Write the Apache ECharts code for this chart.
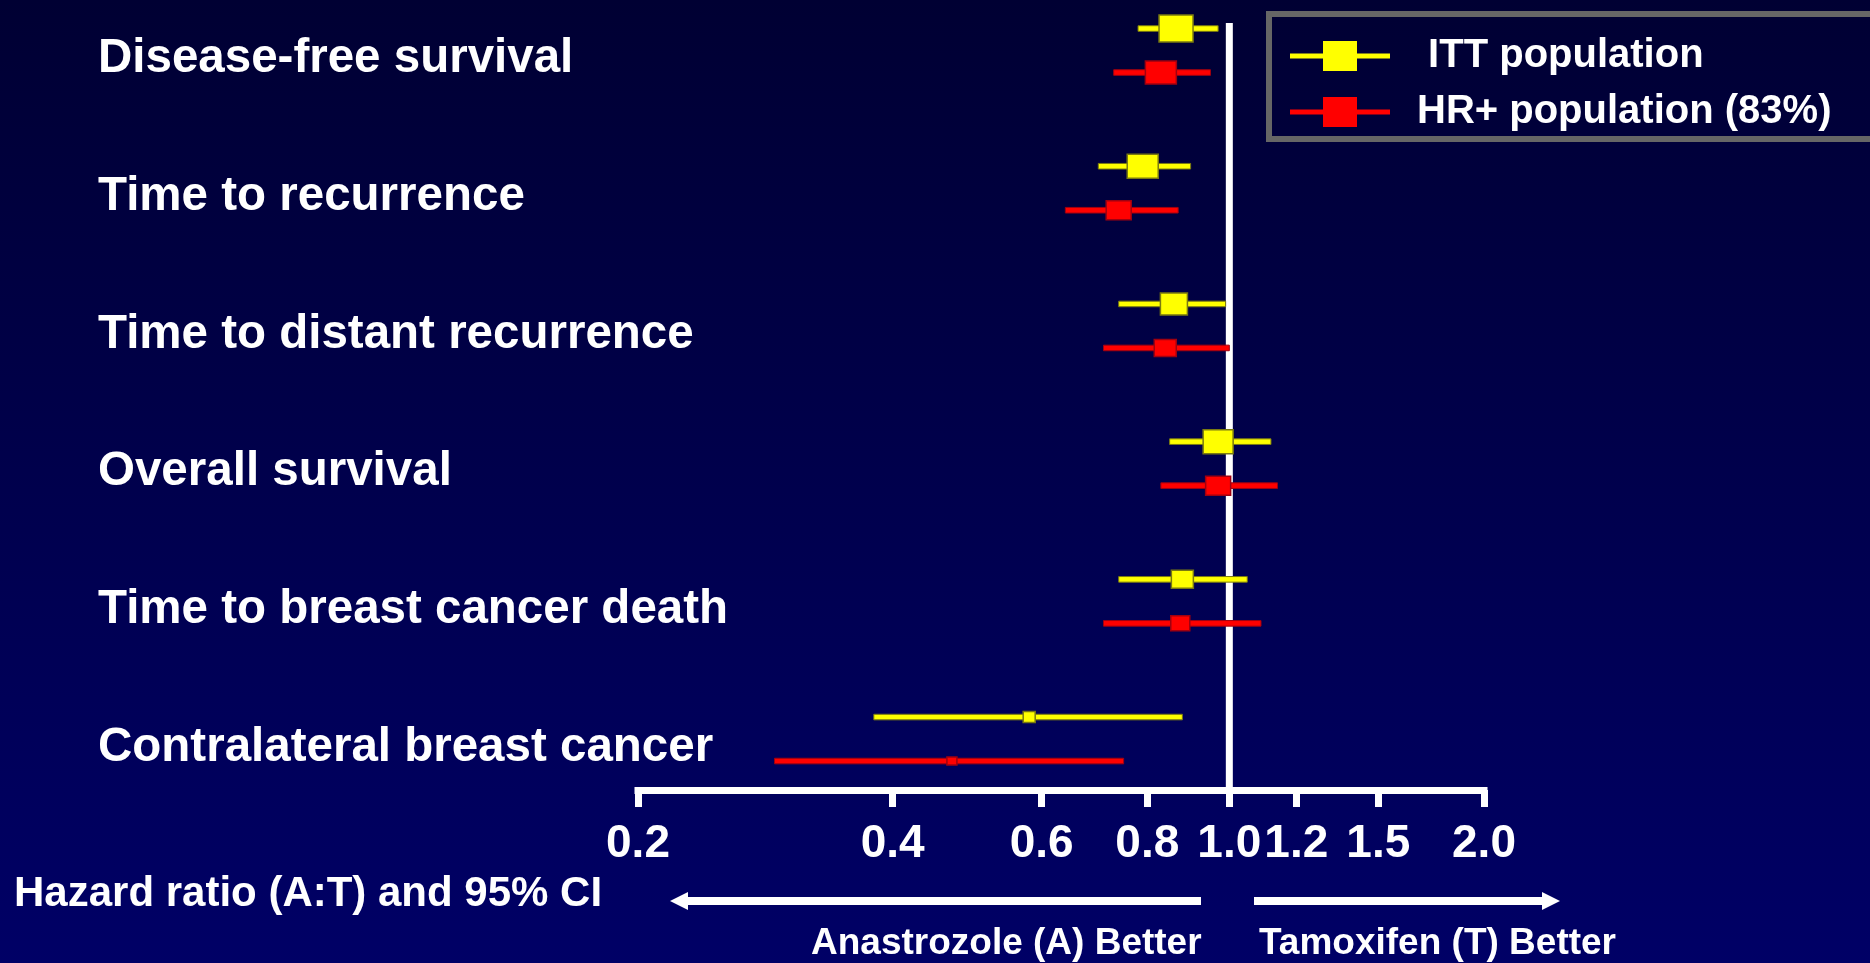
<!DOCTYPE html>
<html>
<head>
<meta charset="utf-8">
<script src="https://cdn.jsdelivr.net/npm/echarts@6/dist/echarts.min.js"></script>
<style>
html,body{margin:0;padding:0;background:#000044;}
#chart{width:1870px;height:963px;}
</style>
</head>
<body>
<div id="chart"></div>
<script>
// ---- data ----
const categories = ['Disease-free survival', 'Time to recurrence', 'Time to distant recurrence', 'Overall survival', 'Time to breast cancer death', 'Contralateral breast cancer'];
const ittHR = [0.865, 0.79, 0.86, 0.97, 0.88, 0.58];
const ittLo = [0.78, 0.70, 0.74, 0.85, 0.74, 0.38];
const ittHi = [0.97, 0.90, 0.99, 1.12, 1.05, 0.88];
const hrHR = [0.83, 0.74, 0.84, 0.97, 0.875, 0.47];
const hrLo = [0.73, 0.64, 0.71, 0.83, 0.71, 0.29];
const hrHi = [0.95, 0.87, 1.00, 1.14, 1.09, 0.75];
const xTicks = [0.2, 0.4, 0.6, 0.8, 1.0, 1.2, 1.5, 2.0];
const refValue = [1.0];
const seriesNames = ['ITT population', 'HR+ population (83%)'];

// ---- styles ----
const ittBox = [[34, 27], [31, 24], [27, 22], [30, 24], [22, 18], [12, 11]];
const hrBox = [[31, 23], [25, 19], [22, 17], [25, 19], [19, 15], [10, 8]];
const FONT = '"Liberation Sans", Arial, sans-serif';
const YELLOW = '#ffff00', RED = '#ff0000';

const chart = echarts.init(document.getElementById('chart'));

function ciRenderer(offset, boxes, fill, stroke) {
  return function (params, api) {
    const row = api.value(3);
    const c = api.coord([api.value(0), row]);
    const lo = api.coord([api.value(1), row]);
    const hi = api.coord([api.value(2), row]);
    const y = c[1] + offset;
    const s = boxes[params.dataIndex];
    return {
      type: 'group',
      children: [
        { type: 'rect', shape: { x: lo[0], y: y - 2.8, width: hi[0] - lo[0], height: 5.6 },
          style: { fill: fill, stroke: stroke, lineWidth: 1 } },
        { type: 'rect', shape: { x: c[0] - s[0] / 2, y: y - s[1] / 2, width: s[0], height: s[1] },
          style: { fill: fill, stroke: stroke, lineWidth: 1.5 } }
      ]
    };
  };
}

const iconPath = 'path://M0,12.5L100,12.5L100,17.5L0,17.5Z M33,0L67,0L67,30L33,30Z';

const option = {
  backgroundColor: new echarts.graphic.LinearGradient(0, 0, 0, 1, [
    { offset: 0, color: '#000033' },
    { offset: 1, color: '#000066' }
  ]),
  animation: false,
  textStyle: { fontFamily: FONT },
  grid: { left: 638, right: 386, top: 23, bottom: 173 },
  xAxis: {
    type: 'log',
    logBase: 10,
    min: 0.2,
    max: 2.0,
    position: 'bottom',
    axisLine: { show: true, onZero: false, lineStyle: { color: '#ffffff', width: 7, cap: 'square' } },
    axisTick: { show: true, length: 17, customValues: xTicks, lineStyle: { color: '#ffffff', width: 7 } },
    minorTick: { show: false },
    splitLine: { show: false },
    axisLabel: {
      customValues: xTicks,
      formatter: v => Number(v).toFixed(1),
      color: '#ffffff', fontSize: 46, fontWeight: 'bold', fontFamily: FONT, margin: 31
    }
  },
  yAxis: {
    type: 'value',
    inverse: true,
    min: -0.2,
    max: 5.37,
    axisLine: { show: false },
    axisTick: { show: false },
    splitLine: { show: false },
    axisLabel: {
      customValues: [0, 1, 2, 3, 4, 5],
      formatter: v => categories[Math.round(v)] || '',
      align: 'left',
      verticalAlign: 'top',
      lineHeight: 17,
      margin: 540,
      color: '#ffffff', fontSize: 47.5, fontWeight: 'bold', fontFamily: FONT
    }
  },
  legend: {
    orient: 'vertical',
    left: 1269,
    top: 14,
    padding: [22, 80, 7, 21],
    itemWidth: 100,
    itemHeight: 30,
    itemGap: 16,
    borderColor: '#666666',
    borderWidth: 6,
    selectedMode: false,
    data: [
      { name: seriesNames[0], icon: iconPath },
      { name: seriesNames[1], icon: iconPath }
    ],
    formatter: name => (name === seriesNames[0] ? ' ' + name : name),
    textStyle: { color: '#ffffff', fontSize: 40, fontWeight: 'bold', fontFamily: FONT, lineHeight: 40, padding: [0, 0, 0, 22] }
  },
  series: [
    {
      type: 'custom',
      name: 'ref',
      z: 1,
      data: refValue.map(v => [v, 0]),
      encode: { x: 0, y: 1 },
      renderItem: function (params, api) {
        const cs = params.coordSys;
        const x = api.coord([api.value(0), 0])[0];
        return { type: 'rect', shape: { x: x - 3.5, y: cs.y, width: 7, height: cs.height }, style: { fill: '#ffffff' } };
      }
    },
    {
      type: 'custom',
      name: seriesNames[0],
      z: 3,
      itemStyle: { color: YELLOW },
      data: ittHR.map((v, i) => [v, ittLo[i], ittHi[i], i]),
      encode: { x: [0, 1, 2], y: 3 },
      renderItem: ciRenderer(-22, ittBox, YELLOW, '#7a7a10')
    },
    {
      type: 'custom',
      name: seriesNames[1],
      z: 3,
      itemStyle: { color: RED },
      data: hrHR.map((v, i) => [v, hrLo[i], hrHi[i], i]),
      encode: { x: [0, 1, 2], y: 3 },
      renderItem: ciRenderer(22, hrBox, RED, '#a00010')
    }
  ],
  graphic: [
    { type: 'text', left: 14, top: 873, style: { text: 'Hazard ratio (A:T) and 95% CI', fill: '#ffffff', font: 'bold 42px ' + FONT } },
    { type: 'text', left: 811, top: 925, style: { text: 'Anastrozole (A) Better', fill: '#ffffff', font: 'bold 37px ' + FONT } },
    { type: 'text', left: 1259, top: 925, style: { text: 'Tamoxifen (T) Better', fill: '#ffffff', font: 'bold 37px ' + FONT } },
    { type: 'rect', shape: { x: 684, y: 897, width: 517, height: 8 }, style: { fill: '#ffffff' } },
    { type: 'polygon', shape: { points: [[670, 901], [688, 892], [688, 910]] }, style: { fill: '#ffffff' } },
    { type: 'rect', shape: { x: 1254, y: 897, width: 292, height: 8 }, style: { fill: '#ffffff' } },
    { type: 'polygon', shape: { points: [[1560, 901], [1542, 892], [1542, 910]] }, style: { fill: '#ffffff' } }
  ]
};
chart.setOption(option);
</script>
</body>
</html>
